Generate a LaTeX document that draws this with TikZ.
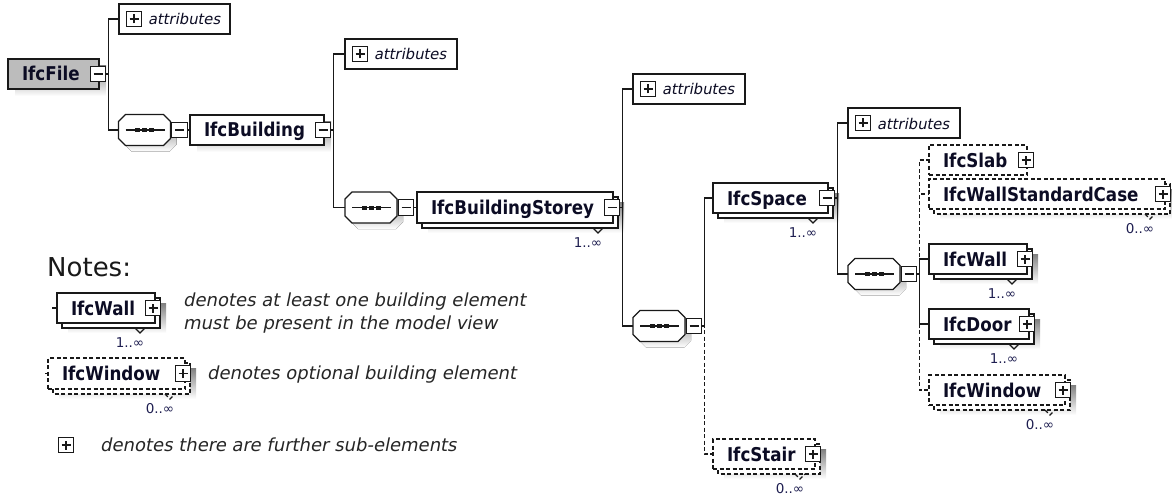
\documentclass[tikz,border=0pt]{standalone}
\usepackage{fontspec}
\setmainfont{DejaVu Sans}[AutoFakeSlant=0.2]
\newfontfamily\namefont{DejaVu Sans}[FakeStretch=0.88]
\usetikzlibrary{calc}
\pgfdeclarelayer{shadow}
\pgfdeclarelayer{back}
\pgfsetlayers{shadow,back,main}

\definecolor{ink}{RGB}{12,12,36}
\definecolor{multink}{RGB}{30,30,80}
\definecolor{shade}{RGB}{192,192,192}
\definecolor{filegray}{RGB}{188,188,188}
\definecolor{outline}{RGB}{25,25,25}

\tikzset{
  boxline/.style={draw=outline, line width=1.2pt},
  conn/.style={draw=outline, line width=1.2pt},
  dashbox/.style={dash pattern=on 4pt off 2.5pt},
  dconn/.style={conn, dashbox},
  elem/.style={boxline, fill=white, anchor=north west, outer sep=0pt,
    inner xsep=14pt, inner ysep=0pt, minimum height=30pt,
    text width=#1pt, align=left, text height=14pt, text depth=0pt,
    font=\namefont\bfseries\fontsize{19}{21}\selectfont, text=ink},
  attrbox/.style={boxline, fill=white, anchor=north west, outer sep=0pt,
    inner xsep=6pt, inner ysep=0pt, minimum height=30pt,
    text width=#1pt, align=left, text height=12pt, text depth=0pt,
    font=\itshape\fontsize{14.8}{16}\selectfont, text=ink},
  seq/.style={minimum width=52pt, minimum height=31pt, inner sep=0pt, outer sep=0pt},
  tog/.style={draw=outline, line width=1pt, fill=white, minimum size=15.5pt,
    inner sep=0pt, outer sep=0pt},
  pbox/.style={tog, path picture={
    \draw[line width=1.1pt] ([xshift=-4.5pt]path picture bounding box.center) -- ([xshift=4.5pt]path picture bounding box.center);
    \draw[line width=1.1pt] ([yshift=-4.5pt]path picture bounding box.center) -- ([yshift=4.5pt]path picture bounding box.center);}},
  mbox/.style={tog, path picture={
    \draw[line width=1.1pt] ([xshift=-4.5pt]path picture bounding box.center) -- ([xshift=4.5pt]path picture bounding box.center);}},
  mult/.style={inner sep=0pt, font=\fontsize{13.5}{15}\selectfont, text=multink},
  note/.style={inner sep=0pt, align=left, font=\itshape\fontsize{18}{23}\selectfont, text=black!85},
}

% octagonal outline of a sequence compositor, shifted by (#2,#3)
\newcommand\octpath[3]{%
  ($(#1.north west)+(#2+7,#3)$) -- ($(#1.north east)+(#2-7,#3)$) --
  ($(#1.north east)+(#2,#3+7)$) -- ($(#1.south east)+(#2,#3-7)$) --
  ($(#1.south east)+(#2-7,#3)$) -- ($(#1.south west)+(#2+7,#3)$) --
  ($(#1.south west)+(#2,#3-7)$) -- ($(#1.north west)+(#2,#3+7)$) -- cycle}

% sequence compositor: shadow, octagon, line with three dots
\newcommand\seqdraw[1]{%
  \begin{pgfonlayer}{shadow}\fill[shade] \octpath{#1}{6}{6};\end{pgfonlayer}
  \draw[boxline, fill=white] \octpath{#1}{0}{0};
  \draw[boxline] ($(#1.center)+(-19,0)$) -- ($(#1.center)+(20,0)$);
  \foreach \d in {-7,0,7}
    \fill[outline] ($(#1.center)+(\d-2.5,-2)$) rectangle ($(#1.center)+(\d+2.5,2)$);
}

% drop shadow of a single box
\newcommand\shadowof[1]{%
  \begin{pgfonlayer}{shadow}
    \fill[shade] ($(#1.north west)+(7,7)$) rectangle ($(#1.south east)+(7,7)$);
  \end{pgfonlayer}}

% repeated element: second box behind, shadow, notch and occurrence label
\newcommand\stack[3][]{%
  \begin{pgfonlayer}{back}
    \draw[boxline, fill=white, #1] ($(#2.north west)+(5,5)$) rectangle ($(#2.south east)+(5,5)$);
  \end{pgfonlayer}
  \begin{pgfonlayer}{shadow}
    \fill[shade] ($(#2.north west)+(11,10)$) rectangle ($(#2.south east)+(11,10)$);
  \end{pgfonlayer}
  \draw[boxline, #1] ($(#2.south east)+(-20,5)$) -- ++(5,5) -- ++(5,-5);
  \node[mult] (#2-m) at ($(#2.south east)+(-25,20)$) {#3};
}

\begin{document}
\begin{tikzpicture}[x=1pt, y=-1pt]
\useasboundingbox (0,0) rectangle (1172,500);

% ---- IfcFile ----
\node[elem=63, fill=filegray] (file) at (8,59) {IfcFile};
\shadowof{file}
\node[mbox] (file-t) at ($(file.east)+(-1,0)$) {};

\node[attrbox=99] (attr1) at (119,4) {\hspace*{23pt}attributes};
\node[pbox] (attr1-t) at ($(attr1.west)+(15,0)$) {};

\node[seq] (o1) at (144.5,130) {};
\seqdraw{o1}
\node[mbox] (o1-t) at ($(o1.east)+(9,0)$) {};

\draw[conn] (file-t.east) -- ++(2.5,0) |- (attr1.west);
\draw[conn] (file-t.east) -- ++(2.5,0) |- (o1.west);

% ---- IfcBuilding ----
\node[elem=106] (bld) at (190,115) {IfcBuilding};
\shadowof{bld}
\node[mbox] (bld-t) at ($(bld.east)+(-1,0)$) {};
\draw[conn] (o1-t.east) -- (bld.west);

\node[attrbox=100] (attr2) at (345,39) {\hspace*{23pt}attributes};
\node[pbox] (attr2-t) at ($(attr2.west)+(15,0)$) {};

\node[seq] (o2) at (371,207.5) {};
\seqdraw{o2}
\node[mbox] (o2-t) at ($(o2.east)+(9,0)$) {};

\draw[conn] (bld-t.east) -- ++(2.5,0) |- (attr2.west);
\draw[conn] (bld-t.east) -- ++(2.5,0) |- (o2.west);

% ---- IfcBuildingStorey ----
\node[elem=168, minimum height=31pt] (sto) at (417,192) {IfcBuildingStorey};
\stack{sto}{1..∞}
\node[mbox] (sto-t) at ($(sto.east)+(-1,0)$) {};
\draw[conn] (o2-t.east) -- (sto.west);

\node[attrbox=100] (attr3) at (633,74) {\hspace*{23pt}attributes};
\node[pbox] (attr3-t) at ($(attr3.west)+(15,0)$) {};

\node[seq] (o3) at (659,326) {};
\seqdraw{o3}
\node[mbox] (o3-t) at ($(o3.east)+(9,0)$) {};

\draw[conn] (sto-t.east) -- ++(2.5,0) |- (attr3.west);
\draw[conn] (sto-t.east) -- ++(2.5,0) |- (o3.west);

% ---- IfcSpace and IfcStair ----
\node[elem=87] (spc) at (713,183) {IfcSpace};
\stack{spc}{1..∞}
\node[mbox] (spc-t) at ($(spc.east)+(-1,0)$) {};

\node[elem=74, dashbox] (stair) at (713,439) {IfcStair};
\stack[dashbox]{stair}{0..∞}
\node[pbox] (stair-t) at ($(stair.east)+(-2,0)$) {};

\draw[dconn] (o3-t.east) -- ++(2.5,0) |- (stair.west);
\draw[conn] (o3-t.east) -- ++(2.5,0) |- (spc.west);

\node[attrbox=100] (attr4) at (848,108) {\hspace*{23pt}attributes};
\node[pbox] (attr4-t) at ($(attr4.west)+(15,0)$) {};

\node[seq] (o4) at (874,274) {};
\seqdraw{o4}
\node[mbox] (o4-t) at ($(o4.east)+(9,0)$) {};

\draw[conn] (spc-t.east) -- ++(2.5,0) |- (attr4.west);
\draw[conn] (spc-t.east) -- ++(2.5,0) |- (o4.west);

% ---- building elements of a space ----
\node[elem=70, dashbox] (slab) at (929,145) {IfcSlab};
\node[pbox] (slab-t) at ($(slab.east)+(-1,0)$) {};

\node[elem=208, dashbox] (wsc) at (929,179) {IfcWallStandardCase};
\stack[dashbox]{wsc}{0..∞}
\node[pbox] (wsc-t) at ($(wsc.east)+(-2,0)$) {};

\node[elem=70] (wall) at (929,244) {IfcWall};
\stack{wall}{1..∞}
\node[pbox] (wall-t) at ($(wall.east)+(-2,0)$) {};

\node[elem=72] (door) at (929,309) {IfcDoor};
\stack{door}{1..∞}
\node[pbox] (door-t) at ($(door.east)+(-2,0)$) {};

\node[elem=108, dashbox] (win) at (929,375) {IfcWindow};
\stack[dashbox]{win}{0..∞}
\node[pbox] (win-t) at ($(win.east)+(-2,0)$) {};

\draw[dconn] (o4-t.east) -- ++(2.5,0) |- (slab.west);
\draw[dconn] (o4-t.east) -- ++(2.5,0) |- (wsc.west);
\draw[dconn] (o4-t.east) -- ++(2.5,0) |- (win.west);
\draw[conn] (o4-t.east) -- ++(2.5,0) |- (wall.west);
\draw[conn] (o4-t.east) -- ++(2.5,0) |- (door.west);

% ---- legend ----
\node[inner sep=0pt, anchor=base west, font=\fontsize{26}{30}\selectfont, text=black!90] (notes) at (47,276) {Notes:};

\node[elem=70] (lwall) at (57,293) {IfcWall};
\stack{lwall}{1..∞}
\node[pbox] (lwall-t) at ($(lwall.east)+(-2,0)$) {};
\coordinate (lwall-in) at ($(lwall.west)+(-5,0)$);
\draw[conn] (lwall-in) -- (lwall.west);
\node[note, anchor=north west] (n1) at (183,293) {denotes at least one building element\\must be present in the model view};

\node[elem=109, dashbox, minimum height=31pt] (lwin) at (48,358) {IfcWindow};
\stack[dashbox]{lwin}{0..∞}
\node[pbox] (lwin-t) at ($(lwin.east)+(-2,0)$) {};
\coordinate (lwin-in) at ($(lwin.west)+(-3,0)$);
\draw[conn] (lwin-in) -- (lwin.west);
\node[note, anchor=base west] (n2) at (207,379) {denotes optional building element};

\node[pbox] (lplus) at (66,445) {};
\node[note, anchor=base west] (n3) at (100,451) {denotes there are further sub-elements};
\end{tikzpicture}
\end{document}
